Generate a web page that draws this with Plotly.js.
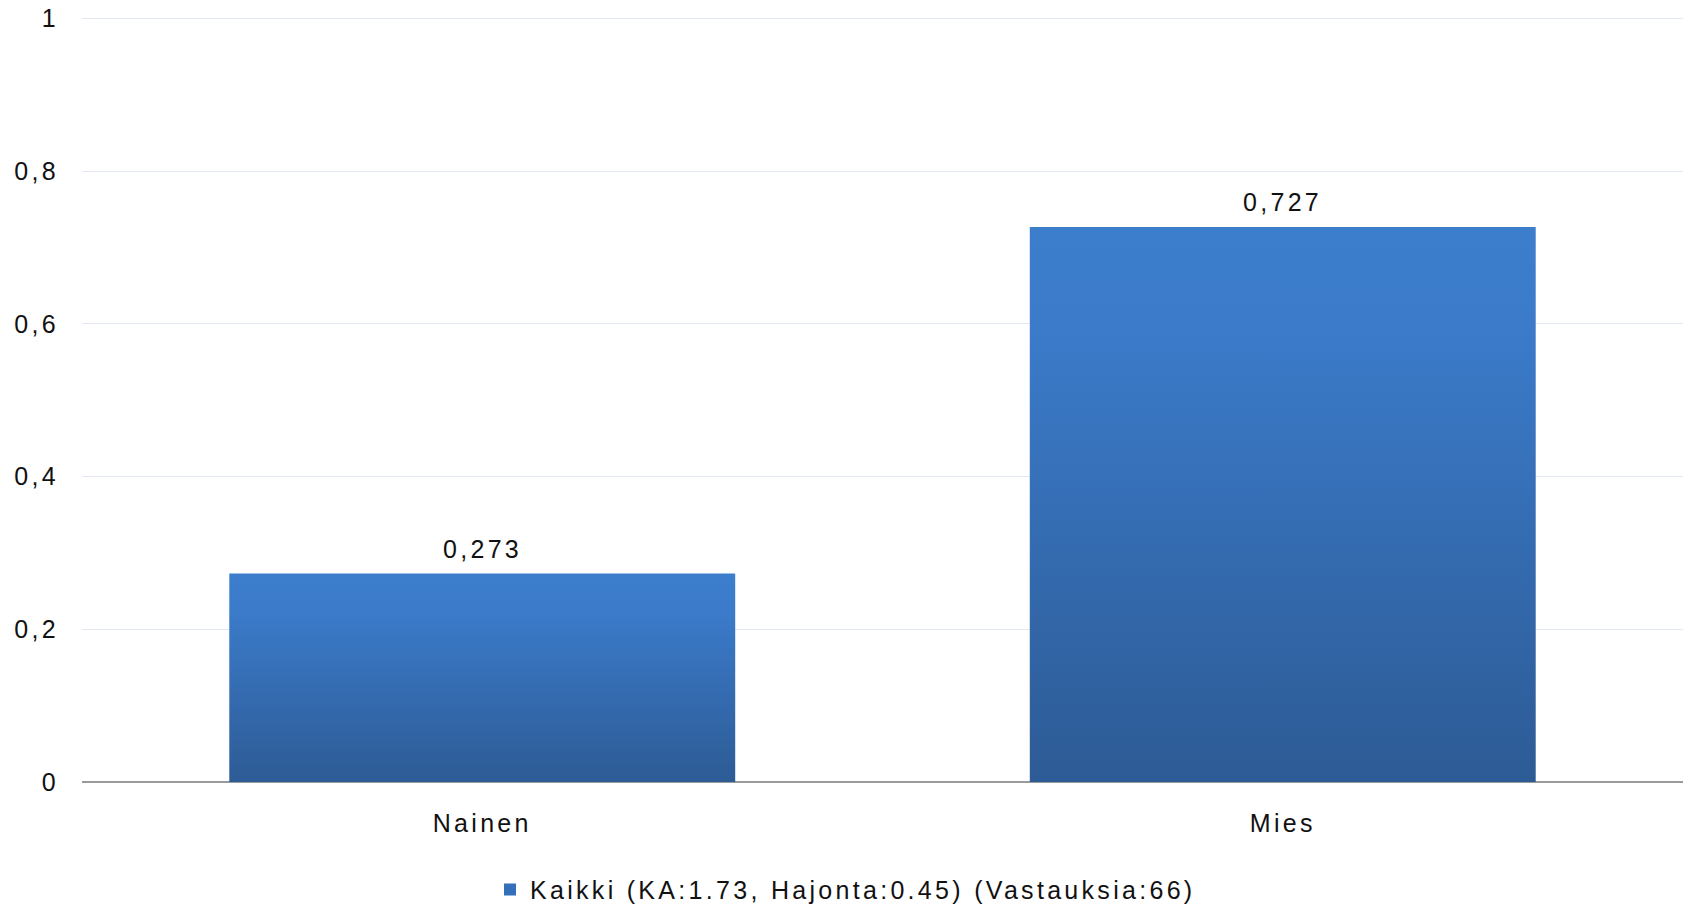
<!DOCTYPE html>
<html>
<head>
<meta charset="utf-8">
<script src="https://cdn.plot.ly/plotly-3.0.1.min.js"></script>
<style>
  html, body { margin: 0; padding: 0; background: #fff; }
  #chart { width: 1691px; height: 907px; }
  svg text { letter-spacing: 3.3px; }
</style>
</head>
<body>
<div id="chart"></div>
<script>
// ---- data ----
const categories = ['Nainen', 'Mies'];
const values = [0.273, 0.727];
const valueLabels = ['0,273', '0,727'];
const seriesName = 'Kaikki (KA:1.73, Hajonta:0.45) (Vastauksia:66)';
const yTickVals = [0, 0.2, 0.4, 0.6, 0.8, 1];

const fontFamily = '"Liberation Sans", Arial, Helvetica, sans-serif';
const textColor = '#111111';
const fs = 25;

const trace = {
  type: 'bar',
  x: categories,
  y: values,
  name: seriesName,
  marker: { color: '#3470b9', line: { width: 0 } },
  hoverinfo: 'x+y'
};

const annotations = categories.map((c, i) => ({
  x: c, y: values[i], xref: 'x', yref: 'y',
  text: valueLabels[i], showarrow: false,
  yanchor: 'bottom', xanchor: 'center', yshift: 9,
  font: { family: fontFamily, size: fs, color: textColor }
}));

const layout = {
  width: 1691, height: 907,
  margin: { l: 82, r: 8, t: 17, b: 125, pad: 0 },
  paper_bgcolor: '#ffffff',
  plot_bgcolor: '#ffffff',
  separators: ', ',
  bargap: 0.368,
  showlegend: true,
  font: { family: fontFamily, size: fs, color: textColor },
  xaxis: {
    type: 'category',
    showgrid: false,
    showline: false,
    ticks: '',
    ticklabelstandoff: 24,
    tickfont: { family: fontFamily, size: fs, color: textColor },
    fixedrange: true
  },
  yaxis: {
    range: [0, 1.002],
    tickvals: yTickVals,
    showgrid: true,
    gridcolor: '#e2e8f2',
    gridwidth: 1,
    zeroline: true,
    zerolinecolor: '#9a9a9a',
    zerolinewidth: 1.5,
    showline: false,
    ticks: '',
    ticklabelstandoff: 22,
    tickfont: { family: fontFamily, size: fs, color: textColor },
    fixedrange: true
  },
  legend: {
    orientation: 'h',
    xref: 'container', yref: 'container',
    x: 0.5, xanchor: 'center',
    y: 0.019, yanchor: 'middle',
    font: { family: fontFamily, size: fs, color: textColor },
    bgcolor: 'rgba(0,0,0,0)',
    itemwidth: 30
  },
  annotations: annotations
};

Plotly.newPlot('chart', [trace], layout, { displayModeBar: false, staticPlot: true }).then(gd => {
  const svg = gd.querySelector('svg.main-svg');
  const ns = 'http://www.w3.org/2000/svg';
  let defs = svg.querySelector('defs');
  if (!defs) { defs = document.createElementNS(ns, 'defs'); svg.insertBefore(defs, svg.firstChild); }
  const grad = document.createElementNS(ns, 'linearGradient');
  grad.setAttribute('id', 'barGrad');
  grad.setAttribute('x1', '0'); grad.setAttribute('y1', '0');
  grad.setAttribute('x2', '0'); grad.setAttribute('y2', '1');
  [['0', '#3c7dcc'], ['0.18', '#3b7bca'], ['1', '#2d5b95']].forEach(([o, c]) => {
    const s = document.createElementNS(ns, 'stop');
    s.setAttribute('offset', o); s.setAttribute('stop-color', c);
    grad.appendChild(s);
  });
  defs.appendChild(grad);
  gd.querySelectorAll('.barlayer .point path').forEach(p => {
    p.style.fill = 'url(#barGrad)';
  });
});
</script>
</body>
</html>
